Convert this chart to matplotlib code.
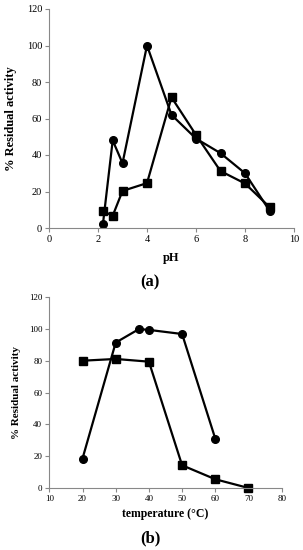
import matplotlib
matplotlib.use("Agg")
import matplotlib.pyplot as plt

plt.rcParams['font.family'] = ['Liberation Serif', 'DejaVu Serif']

# Panel (a): pH
ph_circle_x = [2.2, 2.6, 3.0, 4.0, 5.0, 6.0, 7.0, 8.0, 9.0]
ph_circle_y = [2, 48, 35.5, 100, 62, 49, 41, 30, 9.5]
ph_square_x = [2.2, 2.6, 3.0, 4.0, 5.0, 6.0, 7.0, 8.0, 9.0]
ph_square_y = [9.3, 6.7, 20.3, 24.6, 71.6, 51, 31.2, 24.4, 11.5]

# Panel (b): temperature
t_circle_x = [20, 30, 37, 40, 50, 60]
t_circle_y = [18.5, 91.5, 100, 99.5, 96.9, 31]
t_square_x = [20, 30, 40, 50, 60, 70]
t_square_y = [80.1, 81.2, 79.5, 14.3, 5.5, 0]

W, H = 303, 550
fig = plt.figure(figsize=(W/100, H/100), dpi=100)

def style(ax, ls):
    for s in ['top', 'right']:
        ax.spines[s].set_visible(False)
    for s in ['left', 'bottom']:
        ax.spines[s].set_color('#888888')
        ax.spines[s].set_linewidth(0.8)
    ax.tick_params(direction='out', length=3, width=0.8, color='#888888',
                   labelsize=ls, pad=2)

ax1 = fig.add_axes([49/W, 1-228/H, (294-49)/W, (228-9)/H])
ax1.plot(ph_circle_x, ph_circle_y, '-o', color='black', lw=1.6, ms=5.5, clip_on=False)
ax1.plot(ph_square_x, ph_square_y, '-s', color='black', lw=1.6, ms=5.5, clip_on=False)
ax1.set_xlim(0, 10)
ax1.set_ylim(0, 120)
ax1.set_xticks(range(0, 11, 2))
ax1.set_yticks(range(0, 121, 20))
style(ax1, 7.5)
ax1.set_xlabel('pH', fontsize=9, fontweight='bold', labelpad=6)
ax1.set_ylabel('% Residual activity', fontsize=9, fontweight='bold', labelpad=7)

ax2 = fig.add_axes([49.3/W, 1-488/H, (281.7-49.3)/W, (488-297.3)/H])
ax2.plot(t_circle_x, t_circle_y, '-o', color='black', lw=1.6, ms=5.5, clip_on=False)
ax2.plot(t_square_x, t_square_y, '-s', color='black', lw=1.6, ms=5.5, clip_on=False)
ax2.set_xlim(10, 80)
ax2.set_ylim(0, 120)
ax2.set_xticks(range(10, 81, 10))
ax2.set_yticks(range(0, 121, 20))
style(ax2, 6.5)
ax2.set_xlabel('temperature (°C)', fontsize=8.5, fontweight='bold', labelpad=4)
ax2.set_ylabel('% Residual activity', fontsize=8, fontweight='bold', labelpad=6)

fig.text(150/W, 1-282/H, '(a)', ha='center', va='center', fontsize=12, fontweight='bold')
fig.text(150/W, 1-538/H, '(b)', ha='center', va='center', fontsize=12, fontweight='bold')

fig.savefig('out.png', dpi=100)
